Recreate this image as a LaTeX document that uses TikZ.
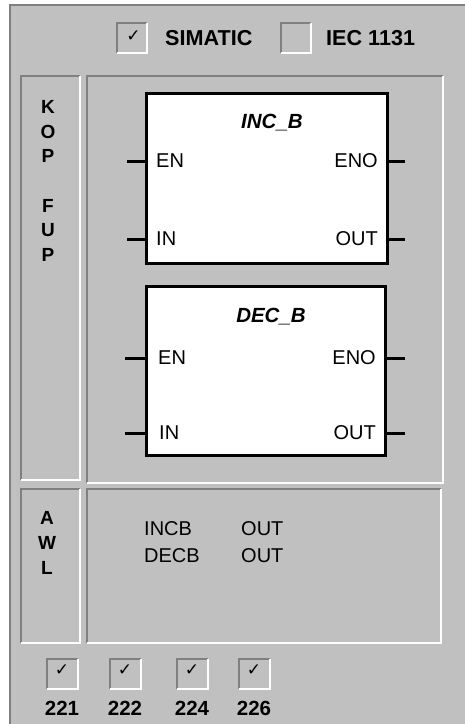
\documentclass[tikz,border=0pt]{standalone}
\usepackage{fontspec}
\setmainfont{Liberation Sans}
\newfontfamily\symfont{DejaVu Sans}
\definecolor{panelgray}{HTML}{C0C0C0}
\definecolor{shadow}{HTML}{808080}
\tikzset{
  dkline/.style={draw=shadow,line width=2pt},
  ltline/.style={draw=white,line width=2pt},
  area/.style={inner sep=0pt,outer sep=0pt,draw=none},
  cbox/.style={area,minimum width=30pt,minimum height=30pt},
  fb/.style={draw=black,fill=white,line width=3pt,inner sep=0pt,outer sep=0pt},
  pin/.style={draw=black,line width=3pt},
  lbl/.style={inner sep=0pt,font=\fontsize{20}{24}\selectfont},
  blbl/.style={inner sep=0pt,font=\fontsize{20.5}{24}\selectfont\bfseries},
  vert/.style={inner sep=0pt,align=center,font=\fontsize{19}{24.7}\selectfont\bfseries},
  chk/.style={inner sep=0pt,font=\fontsize{17}{17}\symfont},
}
\newcommand\sunkenbox[1]{%
  \draw[dkline] (#1.south west)--(#1.north west)--(#1.north east);
  \draw[ltline] (#1.south west)--(#1.south east)--(#1.north east);}
\begin{document}
\begin{tikzpicture}[x=1pt,y=-1pt]
\useasboundingbox (0,0) rectangle (465,724);
\fill[white] (0,0) rectangle (465,724);
\fill[panelgray] (10,5) rectangle (465,724);
\draw[dkline] (10,724) -- (10,5) -- (465,5);
% top checkboxes
\node[cbox] (cbS) at (132,37.5) {};
\sunkenbox{cbS}
\node[chk] at ([xshift=1.5pt,yshift=1pt]cbS.center) {✓};
\node[blbl,font=\fontsize{21.6}{24}\selectfont\bfseries,anchor=west] (simatic) at (165,38.5) {SIMATIC};
\node[cbox] (cbI) at (295.5,37.5) {};
\sunkenbox{cbI}
\node[blbl,font=\fontsize{21.6}{24}\selectfont\bfseries,anchor=west] (iec) at (326,38.5) {IEC 1131};
% panels
\node[area,minimum width=59pt,minimum height=404pt] (kopL) at (50.5,278) {};
\sunkenbox{kopL}
\node[area,minimum width=356pt,minimum height=407pt] (kopM) at (265,279.5) {};
\sunkenbox{kopM}
\node[area,minimum width=59pt,minimum height=154pt] (awlL) at (50.5,566) {};
\sunkenbox{awlL}
\node[area,minimum width=354pt,minimum height=154pt] (awlM) at (264,566) {};
\sunkenbox{awlM}
\node[vert] (kopfup) at (48,181) {K\\O\\P\\[24.7pt]F\\U\\P};
\node[vert,font=\fontsize{19}{25}\selectfont\bfseries] (awl) at (47,543) {A\\W\\L};
% INC_B box
\node[fb,minimum width=241pt,minimum height=170pt] (inc) at (267,178.5) {};
\node[blbl,font=\fontsize{20.5}{24}\selectfont\bfseries\itshape,anchor=base] (incT) at (272,128.5) {INC\_B};
\node[lbl,anchor=west] (incEN) at (156,161) {EN};
\node[lbl,anchor=west] (incIN) at (156,239) {IN};
\node[lbl,anchor=east] (incENO) at (378,161) {ENO};
\node[lbl,anchor=east] (incOUT) at (378,239) {OUT};
\coordinate (pa1) at (127,161);
\coordinate (pa2) at (127,239);
\coordinate (pa3) at (405,161);
\coordinate (pa4) at (405,239);
\draw[pin] (pa1) -- (pa1 -| inc.west);
\draw[pin] (pa2) -- (pa2 -| inc.west);
\draw[pin] (pa3) -- (pa3 -| inc.east);
\draw[pin] (pa4) -- (pa4 -| inc.east);
% DEC_B box
\node[fb,minimum width=239pt,minimum height=169pt] (dec) at (266,371) {};
\node[blbl,font=\fontsize{20.5}{24}\selectfont\bfseries\itshape,anchor=base] (decT) at (271,322) {DEC\_B};
\node[lbl,anchor=west] (decEN) at (158,358) {EN};
\node[lbl,anchor=west] (decIN) at (159,433) {IN};
\node[lbl,anchor=east] (decENO) at (376,358) {ENO};
\node[lbl,anchor=east] (decOUT) at (376,433) {OUT};
\coordinate (pb1) at (125,358);
\coordinate (pb2) at (125,433);
\coordinate (pb3) at (405,358);
\coordinate (pb4) at (405,433);
\draw[pin] (pb1) -- (pb1 -| dec.west);
\draw[pin] (pb2) -- (pb2 -| dec.west);
\draw[pin] (pb3) -- (pb3 -| dec.east);
\draw[pin] (pb4) -- (pb4 -| dec.east);
% AWL text
\node[lbl,align=left,anchor=west,font=\fontsize{20}{27.5}\selectfont] (awlA) at (144,542) {INCB\\DECB};
\node[lbl,align=left,anchor=west,font=\fontsize{20}{27.5}\selectfont] (awlB) at (241,542) {OUT\\OUT};
% bottom checkboxes
\foreach \n/\x/\t in {c1/62/221,c2/125/222,c3/192/224,c4/254/226}{
  \node[cbox,minimum width=31pt] (\n) at (\x,674) {};
  \sunkenbox{\n}
  \node[chk] at ([yshift=4pt]\n.center) {✓};
  \node[blbl] (\n t) at (\x,708.5) {\t};
}
\end{tikzpicture}
\end{document}
